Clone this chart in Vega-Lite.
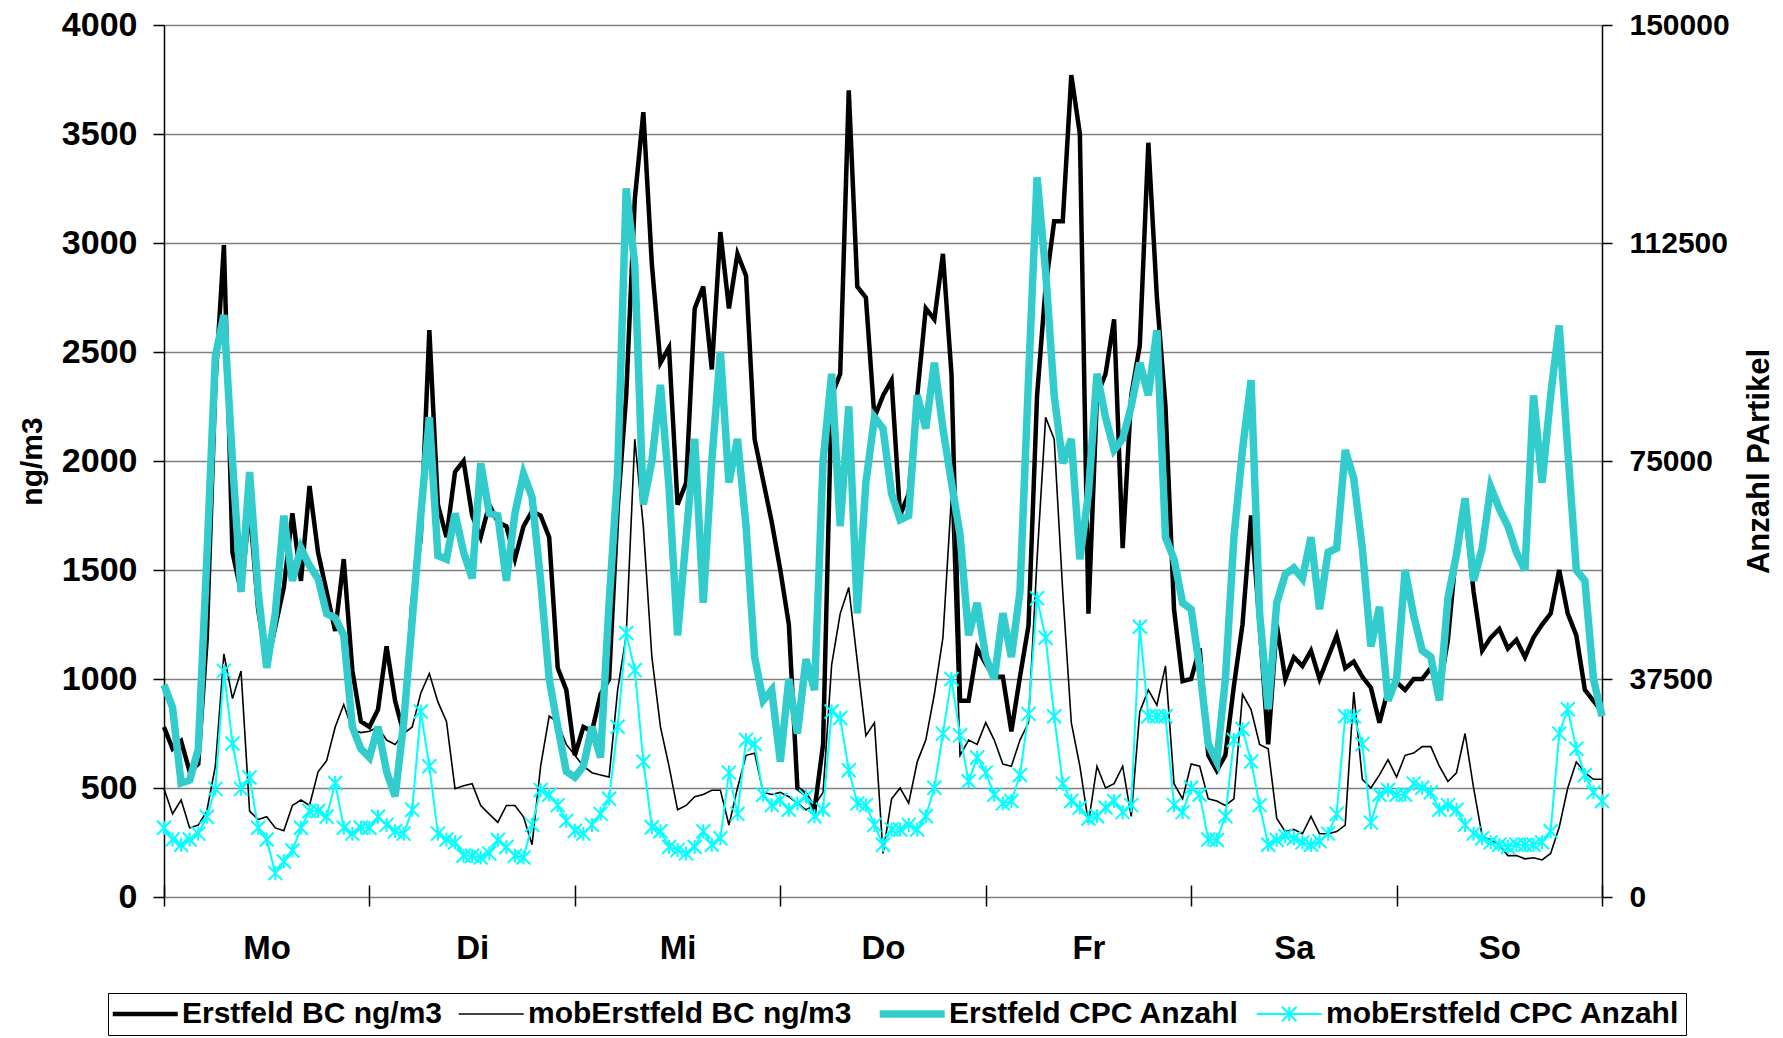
{
"$schema": "https://vega.github.io/schema/vega-lite/v6.json",
"width": 1438, "height": 872,
"autosize": {"type": "none"},
"padding": {"left": 164, "top": 25, "right": 181, "bottom": 141},
"background": "white",
"config": {"view": {"stroke": null}, "font": "Liberation Sans"},
"data": {"values": [
{"h":0,"bc":780,"bcm":497,"cpc":36500,"cpcm":11900},
{"h":1,"bc":680,"bcm":381,"cpc":32600,"cpcm":9900},
{"h":2,"bc":715,"bcm":445,"cpc":19600,"cpcm":9000},
{"h":3,"bc":575,"bcm":317,"cpc":20100,"cpcm":9900},
{"h":4,"bc":610,"bcm":330,"cpc":25400,"cpcm":10900},
{"h":5,"bc":1190,"bcm":394,"cpc":58100,"cpcm":13800},
{"h":6,"bc":2350,"bcm":600,"cpc":93000,"cpcm":18600},
{"h":7,"bc":2990,"bcm":1115,"cpc":100100,"cpcm":38900},
{"h":8,"bc":1580,"bcm":910,"cpc":75000,"cpcm":26400},
{"h":9,"bc":1400,"bcm":1037,"cpc":52500,"cpcm":18600},
{"h":10,"bc":1785,"bcm":394,"cpc":73100,"cpcm":20550},
{"h":11,"bc":1320,"bcm":355,"cpc":52500,"cpcm":11900},
{"h":12,"bc":1060,"bcm":368,"cpc":39400,"cpcm":9900},
{"h":13,"bc":1240,"bcm":317,"cpc":48750,"cpcm":4100},
{"h":14,"bc":1420,"bcm":304,"cpc":65600,"cpcm":6100},
{"h":15,"bc":1760,"bcm":420,"cpc":54400,"cpcm":8000},
{"h":16,"bc":1450,"bcm":445,"cpc":60000,"cpcm":11900},
{"h":17,"bc":1885,"bcm":420,"cpc":57000,"cpcm":14800},
{"h":18,"bc":1580,"bcm":574,"cpc":54750,"cpcm":14800},
{"h":19,"bc":1400,"bcm":625,"cpc":48750,"cpcm":13800},
{"h":20,"bc":1220,"bcm":780,"cpc":48000,"cpcm":19600},
{"h":21,"bc":1550,"bcm":883,"cpc":45000,"cpcm":11900},
{"h":22,"bc":1040,"bcm":767,"cpc":29250,"cpcm":10900},
{"h":23,"bc":805,"bcm":754,"cpc":25500,"cpcm":11900},
{"h":24,"bc":780,"bcm":760,"cpc":24000,"cpcm":11900},
{"h":25,"bc":860,"bcm":780,"cpc":29300,"cpcm":13800},
{"h":26,"bc":1150,"bcm":720,"cpc":21600,"cpcm":12400},
{"h":27,"bc":900,"bcm":700,"cpc":17300,"cpcm":11300},
{"h":28,"bc":750,"bcm":750,"cpc":30000,"cpcm":10900},
{"h":29,"bc":1350,"bcm":780,"cpc":47600,"cpcm":15000},
{"h":30,"bc":1650,"bcm":935,"cpc":65600,"cpcm":31900},
{"h":31,"bc":2600,"bcm":1025,"cpc":82500,"cpcm":22500},
{"h":32,"bc":1800,"bcm":895,"cpc":58700,"cpcm":10900},
{"h":33,"bc":1650,"bcm":805,"cpc":58100,"cpcm":9900},
{"h":34,"bc":1950,"bcm":497,"cpc":66000,"cpcm":9400},
{"h":35,"bc":2000,"bcm":510,"cpc":59300,"cpcm":7100},
{"h":36,"bc":1750,"bcm":520,"cpc":54800,"cpcm":7100},
{"h":37,"bc":1650,"bcm":420,"cpc":74600,"cpcm":6800},
{"h":38,"bc":1800,"bcm":380,"cpc":66000,"cpcm":7500},
{"h":39,"bc":1720,"bcm":342,"cpc":65600,"cpcm":9800},
{"h":40,"bc":1700,"bcm":420,"cpc":54400,"cpcm":8600},
{"h":41,"bc":1550,"bcm":420,"cpc":66000,"cpcm":7100},
{"h":42,"bc":1700,"bcm":368,"cpc":72800,"cpcm":6800},
{"h":43,"bc":1770,"bcm":240,"cpc":68800,"cpcm":12400},
{"h":44,"bc":1750,"bcm":600,"cpc":54400,"cpcm":18400},
{"h":45,"bc":1650,"bcm":830,"cpc":37500,"cpcm":17600},
{"h":46,"bc":1050,"bcm":800,"cpc":29300,"cpcm":15800},
{"h":47,"bc":950,"bcm":700,"cpc":21600,"cpcm":13100},
{"h":48,"bc":650,"bcm":650,"cpc":20600,"cpcm":11400},
{"h":49,"bc":780,"bcm":600,"cpc":22500,"cpcm":10900},
{"h":50,"bc":760,"bcm":570,"cpc":29300,"cpcm":12400},
{"h":51,"bc":930,"bcm":560,"cpc":24000,"cpcm":14300},
{"h":52,"bc":1000,"bcm":550,"cpc":50600,"cpcm":16900},
{"h":53,"bc":1780,"bcm":950,"cpc":73100,"cpcm":29300},
{"h":54,"bc":2300,"bcm":1200,"cpc":121900,"cpcm":45400},
{"h":55,"bc":3200,"bcm":2100,"cpc":108800,"cpcm":39000},
{"h":56,"bc":3600,"bcm":1700,"cpc":67500,"cpcm":23300},
{"h":57,"bc":2900,"bcm":1100,"cpc":75000,"cpcm":12000},
{"h":58,"bc":2450,"bcm":780,"cpc":88100,"cpcm":11300},
{"h":59,"bc":2520,"bcm":600,"cpc":70500,"cpcm":8600},
{"h":60,"bc":1800,"bcm":400,"cpc":45000,"cpcm":8100},
{"h":61,"bc":1900,"bcm":420,"cpc":61900,"cpcm":7500},
{"h":62,"bc":2700,"bcm":460,"cpc":78800,"cpcm":8600},
{"h":63,"bc":2800,"bcm":470,"cpc":50600,"cpcm":11300},
{"h":64,"bc":2420,"bcm":490,"cpc":75000,"cpcm":9000},
{"h":65,"bc":3050,"bcm":490,"cpc":93800,"cpcm":10100},
{"h":66,"bc":2700,"bcm":330,"cpc":71300,"cpcm":21400},
{"h":67,"bc":2950,"bcm":500,"cpc":78800,"cpcm":14300},
{"h":68,"bc":2850,"bcm":650,"cpc":63800,"cpcm":27000},
{"h":69,"bc":2100,"bcm":660,"cpc":41300,"cpcm":26300},
{"h":70,"bc":1910,"bcm":480,"cpc":33800,"cpcm":17600},
{"h":71,"bc":1720,"bcm":470,"cpc":35600,"cpcm":15800},
{"h":72,"bc":1500,"bcm":480,"cpc":23300,"cpcm":16700},
{"h":73,"bc":1250,"bcm":460,"cpc":37500,"cpcm":15000},
{"h":74,"bc":500,"bcm":430,"cpc":28100,"cpcm":16100},
{"h":75,"bc":470,"bcm":400,"cpc":40900,"cpcm":17300},
{"h":76,"bc":400,"bcm":420,"cpc":35600,"cpcm":13900},
{"h":77,"bc":700,"bcm":480,"cpc":75000,"cpcm":15000},
{"h":78,"bc":2300,"bcm":1065,"cpc":90000,"cpcm":31900},
{"h":79,"bc":2400,"bcm":1300,"cpc":63800,"cpcm":30800},
{"h":80,"bc":3700,"bcm":1420,"cpc":84400,"cpcm":21800},
{"h":81,"bc":2800,"bcm":1080,"cpc":48800,"cpcm":16100},
{"h":82,"bc":2750,"bcm":740,"cpc":71300,"cpcm":15800},
{"h":83,"bc":2200,"bcm":800,"cpc":82500,"cpcm":12400},
{"h":84,"bc":2300,"bcm":200,"cpc":80600,"cpcm":9000},
{"h":85,"bc":2370,"bcm":450,"cpc":69400,"cpcm":11600},
{"h":86,"bc":1750,"bcm":500,"cpc":64900,"cpcm":11600},
{"h":87,"bc":1850,"bcm":430,"cpc":65600,"cpcm":12400},
{"h":88,"bc":2300,"bcm":620,"cpc":86300,"cpcm":11600},
{"h":89,"bc":2700,"bcm":720,"cpc":80600,"cpcm":13900},
{"h":90,"bc":2650,"bcm":930,"cpc":91900,"cpcm":18800},
{"h":91,"bc":2950,"bcm":1190,"cpc":80600,"cpcm":28100},
{"h":92,"bc":2400,"bcm":1840,"cpc":71300,"cpcm":37500},
{"h":93,"bc":900,"bcm":650,"cpc":62300,"cpcm":27800},
{"h":94,"bc":900,"bcm":720,"cpc":45000,"cpcm":19900},
{"h":95,"bc":1140,"bcm":700,"cpc":50600,"cpcm":24000},
{"h":96,"bc":1070,"bcm":800,"cpc":41300,"cpcm":21400},
{"h":97,"bc":1010,"bcm":720,"cpc":37500,"cpcm":17600},
{"h":98,"bc":1010,"bcm":610,"cpc":48800,"cpcm":16100},
{"h":99,"bc":760,"bcm":600,"cpc":41300,"cpcm":16500},
{"h":100,"bc":1010,"bcm":720,"cpc":52500,"cpcm":21000},
{"h":101,"bc":1245,"bcm":800,"cpc":89100,"cpcm":31500},
{"h":102,"bc":2300,"bcm":1550,"cpc":123800,"cpcm":51400},
{"h":103,"bc":2800,"bcm":2200,"cpc":107600,"cpcm":44600},
{"h":104,"bc":3100,"bcm":2100,"cpc":86300,"cpcm":31100},
{"h":105,"bc":3100,"bcm":1400,"cpc":74600,"cpcm":19500},
{"h":106,"bc":3770,"bcm":800,"cpc":78800,"cpcm":16500},
{"h":107,"bc":3500,"bcm":600,"cpc":58100,"cpcm":15400},
{"h":108,"bc":1300,"bcm":340,"cpc":69400,"cpcm":13500},
{"h":109,"bc":2300,"bcm":600,"cpc":90000,"cpcm":13900},
{"h":110,"bc":2400,"bcm":500,"cpc":82500,"cpcm":15400},
{"h":111,"bc":2650,"bcm":520,"cpc":76900,"cpcm":16500},
{"h":112,"bc":1600,"bcm":600,"cpc":78800,"cpcm":14600},
{"h":113,"bc":2300,"bcm":370,"cpc":84400,"cpcm":15800},
{"h":114,"bc":2530,"bcm":850,"cpc":91900,"cpcm":46500},
{"h":115,"bc":3460,"bcm":950,"cpc":86300,"cpcm":31100},
{"h":116,"bc":2750,"bcm":880,"cpc":97500,"cpcm":31100},
{"h":117,"bc":2250,"bcm":1060,"cpc":61900,"cpcm":31100},
{"h":118,"bc":1320,"bcm":520,"cpc":58100,"cpcm":15800},
{"h":119,"bc":990,"bcm":450,"cpc":50600,"cpcm":14600},
{"h":120,"bc":1000,"bcm":610,"cpc":49500,"cpcm":18800},
{"h":121,"bc":1140,"bcm":600,"cpc":39400,"cpcm":17600},
{"h":122,"bc":650,"bcm":450,"cpc":26300,"cpcm":9900},
{"h":123,"bc":580,"bcm":440,"cpc":23300,"cpcm":9800},
{"h":124,"bc":650,"bcm":420,"cpc":37500,"cpcm":13900},
{"h":125,"bc":970,"bcm":450,"cpc":61900,"cpcm":27000},
{"h":126,"bc":1250,"bcm":930,"cpc":76900,"cpcm":28900},
{"h":127,"bc":1750,"bcm":860,"cpc":88900,"cpcm":23300},
{"h":128,"bc":1250,"bcm":700,"cpc":48800,"cpcm":15800},
{"h":129,"bc":700,"bcm":680,"cpc":32300,"cpcm":9000},
{"h":130,"bc":1250,"bcm":360,"cpc":50600,"cpcm":9800},
{"h":131,"bc":1000,"bcm":300,"cpc":55500,"cpcm":10500},
{"h":132,"bc":1100,"bcm":310,"cpc":56600,"cpcm":10100},
{"h":133,"bc":1060,"bcm":290,"cpc":54800,"cpcm":9400},
{"h":134,"bc":1130,"bcm":370,"cpc":61900,"cpcm":9000},
{"h":135,"bc":1000,"bcm":290,"cpc":49500,"cpcm":9600},
{"h":136,"bc":1100,"bcm":290,"cpc":59300,"cpcm":10900},
{"h":137,"bc":1200,"bcm":300,"cpc":60000,"cpcm":14300},
{"h":138,"bc":1050,"bcm":330,"cpc":76900,"cpcm":31100},
{"h":139,"bc":1080,"bcm":940,"cpc":72000,"cpcm":31100},
{"h":140,"bc":1010,"bcm":540,"cpc":60000,"cpcm":26300},
{"h":141,"bc":960,"bcm":500,"cpc":43100,"cpcm":12800},
{"h":142,"bc":800,"bcm":560,"cpc":49900,"cpcm":17600},
{"h":143,"bc":950,"bcm":630,"cpc":33800,"cpcm":18400},
{"h":144,"bc":985,"bcm":550,"cpc":37500,"cpcm":17600},
{"h":145,"bc":950,"bcm":650,"cpc":56250,"cpcm":17600},
{"h":146,"bc":1000,"bcm":660,"cpc":48400,"cpcm":19500},
{"h":147,"bc":1000,"bcm":690,"cpc":42400,"cpcm":18800},
{"h":148,"bc":1050,"bcm":690,"cpc":41300,"cpcm":18000},
{"h":149,"bc":950,"bcm":600,"cpc":33800,"cpcm":15000},
{"h":150,"bc":1180,"bcm":530,"cpc":51400,"cpcm":15800},
{"h":151,"bc":1600,"bcm":570,"cpc":58900,"cpcm":15000},
{"h":152,"bc":1780,"bcm":750,"cpc":68600,"cpcm":12400},
{"h":153,"bc":1400,"bcm":500,"cpc":54400,"cpcm":10900},
{"h":154,"bc":1130,"bcm":280,"cpc":60000,"cpcm":10100},
{"h":155,"bc":1190,"bcm":260,"cpc":70500,"cpcm":9400},
{"h":156,"bc":1230,"bcm":240,"cpc":66800,"cpcm":9000},
{"h":157,"bc":1140,"bcm":190,"cpc":63800,"cpcm":8600},
{"h":158,"bc":1180,"bcm":190,"cpc":59300,"cpcm":9000},
{"h":159,"bc":1100,"bcm":175,"cpc":56250,"cpcm":9000},
{"h":160,"bc":1190,"bcm":180,"cpc":86300,"cpcm":9000},
{"h":161,"bc":1250,"bcm":170,"cpc":71300,"cpcm":9400},
{"h":162,"bc":1300,"bcm":200,"cpc":86300,"cpcm":11300},
{"h":163,"bc":1500,"bcm":320,"cpc":98300,"cpcm":28100},
{"h":164,"bc":1300,"bcm":500,"cpc":76900,"cpcm":32300},
{"h":165,"bc":1200,"bcm":620,"cpc":56250,"cpcm":25500},
{"h":166,"bc":950,"bcm":570,"cpc":54400,"cpcm":21000},
{"h":167,"bc":900,"bcm":540,"cpc":37500,"cpcm":18000},
{"h":168,"bc":850,"bcm":540,"cpc":31100,"cpcm":16500}
]},
"encoding": {
  "x": {"field": "h", "type": "quantitative",
    "scale": {"domain": [0, 168], "nice": false, "zero": false},
    "axis": {"values": [0,24,48,72,96,120,144,168], "domain": false, "grid": false,
      "tickSize": 21, "offset": -12, "tickColor": "#000000", "tickWidth": 1.5,
      "labelExpr": "['Mo','Di','Mi','Do','Fr','Sa','So',''][round(datum.value/24)]",
      "labelOffset": 102.7, "labelPadding": 26, "labelFont": "Liberation Sans", "labelFontWeight": "bold",
      "labelFontSize": 33, "labelColor": "#000000", "labelOverlap": false, "labelBound": false, "labelFlush": false,
      "title": null}}
},
"layer": [
  {"layer": [
    {"mark": {"type": "line", "strokeWidth": 4.5},
     "encoding": {
       "y": {"field": "bc", "type": "quantitative", "scale": {"domain": [0, 4000], "nice": false},
         "axis": {"orient": "left", "values": [0,500,1000,1500,2000,2500,3000,3500,4000], "format": "d",
           "grid": true, "gridColor": "#808080", "gridWidth": 1.5,
           "domainColor": "#000000", "domainWidth": 1.5, "tickColor": "#000000", "tickSize": 11, "tickWidth": 1.5,
           "labelFont": "Liberation Sans", "labelFontWeight": "bold", "labelFontSize": 34, "labelColor": "#000000",
           "labelPadding": 16, "labelFlush": false, "labelOverlap": false,
           "title": "ng/m3", "titleFont": "Liberation Sans", "titleFontWeight": "bold", "titleFontSize": 30,
           "titleColor": "#000000", "titleAngle": 270, "titleX": -132, "titleY": 436,
           "titleAlign": "center", "titleBaseline": "middle"}},
       "color": {"datum": "Erstfeld BC ng/m3", "type": "nominal",
         "scale": {"domain": ["Erstfeld BC ng/m3", "mobErstfeld BC ng/m3", "Erstfeld CPC Anzahl", "mobErstfeld CPC Anzahl"],
                   "range": ["#000000", "#000000", "#33CCCC", "#00FFFF"]},
         "legend": {"title": null, "orient": "none", "legendX": -56, "legendY": 968, "direction": "horizontal", "columns": 4,
           "padding": 6, "strokeColor": "#000000", "fillColor": "#ffffff", "cornerRadius": 0, "columnPadding": 12,
           "symbolSize": 1056, "symbolStrokeWidth": 1.5, "labelOffset": 38,
           "labelFont": "Liberation Sans", "labelFontWeight": "bold", "labelFontSize": 30, "labelColor": "#000000", "labelLimit": 600,
           "encode": {"symbols": {"update": {
             "shape": {"signal": "datum.value === 'mobErstfeld CPC Anzahl' ? 'M-1,0L3,0M0.55,-0.45L1.45,0.45M0.55,0.45L1.45,-0.45M1,-0.45L1,0.45' : 'M-1,0L3,0'"},
             "strokeWidth": {"signal": "datum.value === 'Erstfeld BC ng/m3' ? 4.5 : (datum.value === 'Erstfeld CPC Anzahl' ? 7.5 : (datum.value === 'mobErstfeld CPC Anzahl' ? 2 : 1.5))"},
             "fill": {"value": "transparent"}}}}}}
     }},
    {"mark": {"type": "line", "strokeWidth": 1.6},
     "encoding": {
       "y": {"field": "bcm", "type": "quantitative", "scale": {"domain": [0, 4000], "nice": false},
         "axis": {"orient": "left", "values": [0,500,1000,1500,2000,2500,3000,3500,4000], "format": "d",
           "grid": true, "gridColor": "#808080", "gridWidth": 1.5,
           "domainColor": "#000000", "domainWidth": 1.5, "tickColor": "#000000", "tickSize": 11, "tickWidth": 1.5,
           "labelFont": "Liberation Sans", "labelFontWeight": "bold", "labelFontSize": 34, "labelColor": "#000000",
           "labelPadding": 16, "labelFlush": false, "labelOverlap": false,
           "title": "ng/m3", "titleFont": "Liberation Sans", "titleFontWeight": "bold", "titleFontSize": 30,
           "titleColor": "#000000", "titleAngle": 270, "titleX": -132, "titleY": 436,
           "titleAlign": "center", "titleBaseline": "middle"}},
       "color": {"datum": "mobErstfeld BC ng/m3", "type": "nominal"}
     }}
  ]},
  {"layer": [
    {"mark": {"type": "line", "strokeWidth": 7.5},
     "encoding": {
       "y": {"field": "cpc", "type": "quantitative", "scale": {"domain": [0, 150000], "nice": false},
         "axis": {"orient": "right", "values": [0,37500,75000,112500,150000], "format": "d", "grid": false,
           "domainColor": "#000000", "domainWidth": 1.5, "tickColor": "#000000", "tickSize": 10, "tickWidth": 1.5,
           "labelFont": "Liberation Sans", "labelFontWeight": "bold", "labelFontSize": 30, "labelColor": "#000000",
           "labelPadding": 17, "labelFlush": false, "labelOverlap": false,
           "title": "Anzahl PArtikel", "titleFont": "Liberation Sans", "titleFontWeight": "bold", "titleFontSize": 31,
           "titleColor": "#000000", "titleAngle": 270, "titleX": 157, "titleY": 436,
           "titleAlign": "center", "titleBaseline": "middle"}},
       "color": {"datum": "Erstfeld CPC Anzahl", "type": "nominal"}
     }},
    {"mark": {"type": "line", "strokeWidth": 2,
       "point": {"shape": "M-1,-1L1,1M-1,1L1,-1M0,-1L0,1", "size": 196, "filled": false, "strokeWidth": 2}},
     "encoding": {
       "y": {"field": "cpcm", "type": "quantitative", "scale": {"domain": [0, 150000], "nice": false},
         "axis": {"orient": "right", "values": [0,37500,75000,112500,150000], "format": "d", "grid": false,
           "domainColor": "#000000", "domainWidth": 1.5, "tickColor": "#000000", "tickSize": 10, "tickWidth": 1.5,
           "labelFont": "Liberation Sans", "labelFontWeight": "bold", "labelFontSize": 30, "labelColor": "#000000",
           "labelPadding": 17, "labelFlush": false, "labelOverlap": false,
           "title": "Anzahl PArtikel", "titleFont": "Liberation Sans", "titleFontWeight": "bold", "titleFontSize": 31,
           "titleColor": "#000000", "titleAngle": 270, "titleX": 157, "titleY": 436,
           "titleAlign": "center", "titleBaseline": "middle"}},
       "color": {"datum": "mobErstfeld CPC Anzahl", "type": "nominal"}
     }}
  ]}
],
"resolve": {"scale": {"y": "independent"}}
}
